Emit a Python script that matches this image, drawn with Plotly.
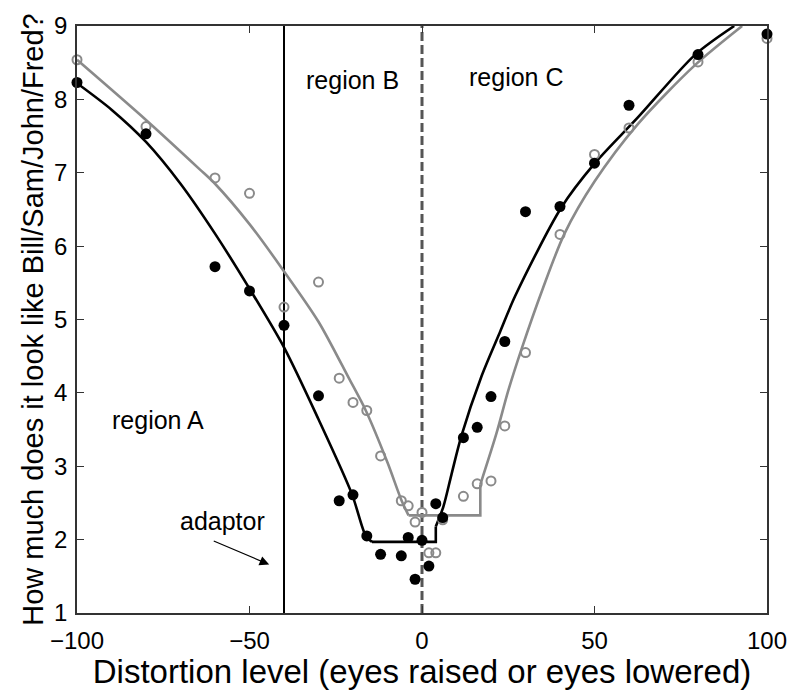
import plotly.graph_objects as go

# ---- data ----
levels = [-100, -80, -60, -50, -40, -30, -24, -20, -16, -12, -6, -4, -2, 0,
          2, 4, 6, 12, 16, 20, 24, 30, 40, 50, 60, 80, 100]
black_y = [8.23, 7.53, 5.72, 5.39, 4.92, 3.96, 2.53, 2.61, 2.05, 1.80, 1.78, 2.03, 1.46, 1.99,
           1.64, 2.49, 2.30, 3.39, 3.53, 3.95, 4.70, 6.47, 6.54, 7.13, 7.92, 8.61, 8.89]
gray_y = [8.54, 7.63, 6.93, 6.72, 5.17, 5.51, 4.20, 3.87, 3.76, 3.14, 2.53, 2.46, 2.24, 2.37,
          1.82, 1.82, 2.27, 2.59, 2.76, 2.80, 3.55, 4.55, 6.16, 7.25, 7.61, 8.51, 8.83]

# fitted curves, split into left branch / floor / right branch
black_left_x = [-100, -90, -80, -70, -60, -50, -40, -30, -20.3, -16.3, -14.5]
black_left_y = [8.22, 7.86, 7.42, 6.85, 6.17, 5.42, 4.62, 3.64, 2.62, 2.05, 1.97]
black_floor_x = [-14.5, 4.0, 4.0]
black_floor_y = [1.97, 1.97, 2.18]
black_right_x = [4.0, 6.2, 8.5, 11.4, 17.2, 22.7, 27, 40.3, 50.1, 62.5, 79.2, 90.5]
black_right_y = [2.18, 2.45, 2.88, 3.41, 4.22, 4.84, 5.32, 6.52, 7.13, 7.75, 8.61, 9.0]

gray_left_x = [-100, -80, -64.5, -60, -50, -40.8, -30, -21.2, -16.3, -10, -5.9, -3.9]
gray_left_y = [8.54, 7.72, 7.05, 6.85, 6.30, 5.71, 4.97, 4.20, 3.76, 3.05, 2.53, 2.33]
gray_floor_x = [-3.9, 16.9, 16.9]
gray_floor_y = [2.33, 2.33, 2.75]
gray_right_x = [16.9, 21.6, 25, 28.8, 35, 41.3, 50, 62.5, 79.2, 92.8]
gray_right_y = [2.75, 3.45, 4.03, 4.59, 5.42, 6.17, 6.88, 7.66, 8.47, 9.0]

adaptor_level = -40
boundary_level = 0
x_ticks = [-100, -50, 0, 50, 100]
y_ticks = [1, 2, 3, 4, 5, 6, 7, 8, 9]

FONT = "Liberation Sans, Arial, Helvetica, sans-serif"
GRAY = "#8a8a8a"
LW = 2.6

fig = go.Figure()
for xs, ys, col, shape in [
    (gray_left_x, gray_left_y, GRAY, "spline"),
    (gray_floor_x, gray_floor_y, GRAY, "linear"),
    (gray_right_x, gray_right_y, GRAY, "spline"),
    (black_left_x, black_left_y, "black", "spline"),
    (black_floor_x, black_floor_y, "black", "linear"),
    (black_right_x, black_right_y, "black", "spline"),
]:
    fig.add_trace(go.Scatter(x=xs, y=ys, mode="lines",
                             line=dict(color=col, width=LW, shape=shape, smoothing=0.8),
                             showlegend=False))

fig.add_trace(go.Scatter(x=levels, y=gray_y, mode="markers", cliponaxis=False,
                         marker=dict(symbol="circle-open", size=9, color=GRAY,
                                     line=dict(color=GRAY, width=2)),
                         showlegend=False))
fig.add_trace(go.Scatter(x=levels, y=black_y, mode="markers", cliponaxis=False,
                         marker=dict(symbol="circle", size=11, color="black"),
                         showlegend=False))

fig.add_shape(type="line", xref="x", yref="paper", x0=adaptor_level, x1=adaptor_level,
              y0=0, y1=1, line=dict(color="black", width=2), layer="below")
fig.add_shape(type="line", xref="x", yref="paper", x0=boundary_level, x1=boundary_level,
              y0=0, y1=1, line=dict(color="#555555", width=3, dash="9px,4px"), layer="below")

txt = dict(family=FONT, size=25, color="black")
fig.add_annotation(x=-76.6, y=3.63, text="region A", showarrow=False, font=txt)
fig.add_annotation(x=-20.1, y=8.26, text="region B", showarrow=False, font=txt)
fig.add_annotation(x=27.4, y=8.30, text="region C", showarrow=False, font=txt)
fig.add_annotation(x=-57.9, y=2.26, text="adaptor", showarrow=False, font=txt)
fig.add_annotation(x=-44.3, y=1.66, ax=-60.8, ay=1.99, axref="x", ayref="y",
                   text="", showarrow=True, arrowhead=2, arrowsize=1.6,
                   arrowwidth=1.2, arrowcolor="black")

axis_common = dict(showline=True, mirror="ticks", linecolor="#333333", linewidth=1.5,
                   ticks="inside", ticklen=7, tickwidth=1.2, tickcolor="#333333",
                   showgrid=False, zeroline=False,
                   tickfont=dict(family=FONT, size=24, color="black"))
fig.update_xaxes(range=[-100, 100], tickmode="array", tickvals=x_ticks,
                 ticklabelstandoff=5,
                 title=dict(text="Distortion level (eyes raised or eyes lowered)",
                            font=dict(family=FONT, size=33, color="black"), standoff=1),
                 **axis_common)
fig.update_yaxes(range=[1, 9], tickmode="array", tickvals=y_ticks,
                 ticklabelstandoff=3,
                 title=dict(text="How much does it look like Bill/Sam/John/Fred?",
                            font=dict(family=FONT, size=29, color="black"), standoff=2),
                 **axis_common)

fig.update_layout(width=799, height=690, margin=dict(l=77, r=29, t=15, b=67),
                  plot_bgcolor="white", paper_bgcolor="white",
                  font=dict(family=FONT))
fig.write_html("out.html")
